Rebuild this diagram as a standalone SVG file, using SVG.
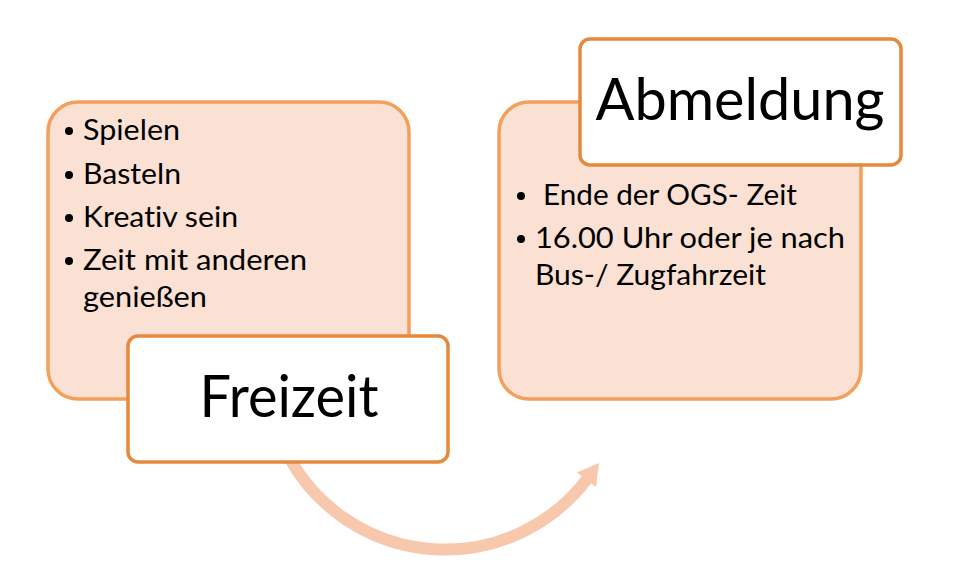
<svg xmlns="http://www.w3.org/2000/svg" width="977" height="586" viewBox="0 0 977 586">
<style>
.big{fill:#FBE0D4;stroke:#F3A05A;stroke-width:3.5}
.title{fill:#FFFFFF;stroke:#E5893F;stroke-width:3.5}
.t{font-family:Lato,"Open Sans","Liberation Sans",sans-serif;font-size:29px;fill:#000;font-variant-ligatures:none}
.h{font-family:Lato,"Open Sans","Liberation Sans",sans-serif;font-size:58px;fill:#000;text-anchor:middle;font-variant-ligatures:none}
.arc{fill:none;stroke:#F8C8AC;stroke-width:12}
</style>
<defs>
<marker id="ah" markerUnits="userSpaceOnUse" markerWidth="30" markerHeight="30" refX="0" refY="0" viewBox="-2 -15 30 30" orient="auto">
<path d="M-1,-12 L20,0 L-1,12 z" fill="#F8C8AC"/>
</marker>
</defs>
<rect width="977" height="586" fill="#FFFFFF"/>
<g id="connectors">
<path class="arc" d="M290,459 A178,178 0 0 0 587,479" marker-end="url(#ah)"/>
</g>
<g id="freizeit">
<rect class="big" x="48" y="102" width="361" height="297" rx="30"/>
<g class="t">
<circle cx="69" cy="131" r="4"/>
<text x="83" y="140" textLength="97" lengthAdjust="spacingAndGlyphs">Spielen</text>
<circle cx="69" cy="175" r="4"/>
<text x="83" y="184" textLength="98" lengthAdjust="spacingAndGlyphs">Basteln</text>
<circle cx="69" cy="218" r="4"/>
<text x="83" y="227" textLength="155" lengthAdjust="spacingAndGlyphs">Kreativ sein</text>
<circle cx="69" cy="261" r="4"/>
<text x="83" y="270" textLength="224" lengthAdjust="spacingAndGlyphs">Zeit mit anderen</text>
<text x="83" y="307" textLength="124" lengthAdjust="spacingAndGlyphs">genießen</text>
</g>
<rect class="title" x="128" y="336" width="320" height="126" rx="10"/>
<text class="h" x="289" y="417" textLength="179" lengthAdjust="spacingAndGlyphs">Freizeit</text>
</g>
<g id="abmeldung">
<rect class="big" x="499" y="102" width="362" height="297" rx="30"/>
<g class="t">
<circle cx="521" cy="196" r="4"/>
<text x="543" y="205" textLength="254" lengthAdjust="spacingAndGlyphs">Ende der OGS- Zeit</text>
<circle cx="521" cy="239" r="4"/>
<text x="535" y="248" textLength="310" lengthAdjust="spacingAndGlyphs">16.00 Uhr oder je nach</text>
<text x="535" y="285" textLength="231" lengthAdjust="spacingAndGlyphs">Bus-/ Zugfahrzeit</text>
</g>
<rect class="title" x="580" y="39" width="321" height="126" rx="10"/>
<text class="h" x="740" y="120" textLength="289" lengthAdjust="spacingAndGlyphs">Abmeldung</text>
</g>
</svg>
